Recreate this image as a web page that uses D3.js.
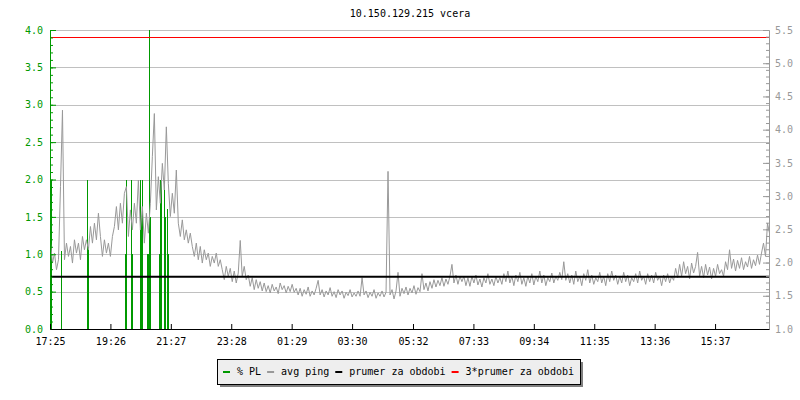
<!DOCTYPE html>
<html>
<head>
<meta charset="utf-8">
<script src="https://cdn.jsdelivr.net/npm/d3@7"></script>
<style>
body { margin: 0; background: #fff; }
text { font-family: "DejaVu Sans Mono", monospace; font-size: 10px; }
</style>
</head>
<body>
<svg id="chart" width="800" height="400"></svg>
<script>
// chart data
var title = "10.150.129.215 vcera"
var timeLabels = ["17:25", "19:26", "21:27", "23:28", "01:29", "03:30", "05:32", "07:33", "09:34", "11:35", "13:36", "15:37"]
var leftTicks = [0, 0.5, 1.0, 1.5, 2.0, 2.5, 3.0, 3.5, 4.0]
var rightTicks = [1.0, 1.5, 2.0, 2.5, 3.0, 3.5, 4.0, 4.5, 5.0, 5.5]

// avg ping (ms), one value every 4 minutes from 17:25
var pingStep = 4
var pingValues = [
  2.3, 2.0, 2.15, 1.9, 2.05, 3.15, 4.3, 2.05, 2.3, 2.1,
  2.25, 2.0, 2.35, 2.15, 2.3, 2.05, 2.4, 2.2, 2.35, 2.2,
  2.55, 2.3, 2.6, 2.35, 2.75, 2.4, 2.1, 2.35, 2.15, 2.3,
  2.1, 2.4, 2.55, 2.85, 2.5, 2.9, 2.6, 3.05, 3.15, 2.4,
  2.8, 2.5, 2.9, 2.6, 3.25, 2.5, 2.85, 2.3, 2.75, 2.45,
  2.9, 3.6, 4.25, 2.8, 3.3, 2.9, 3.5, 3.1, 4.05, 3.2,
  2.7, 3.05, 2.75, 3.4, 2.6, 2.4, 2.65, 2.35, 2.5, 2.3,
  2.45, 2.25, 2.1, 2.3, 2.05, 2.25, 2.0, 2.2, 2.05, 2.15,
  1.95, 2.1, 2.0, 2.15, 1.95, 2.05, 1.9, 1.75, 1.95, 1.8,
  1.92, 1.72, 1.88, 1.7, 1.85, 2.34, 1.8, 1.95, 1.75, 1.82,
  1.65, 1.78, 1.6, 1.75, 1.62, 1.72, 1.58, 1.7, 1.57, 1.66,
  1.55, 1.68, 1.58, 1.64, 1.54, 1.7, 1.6, 1.66, 1.55, 1.65,
  1.57, 1.68, 1.56, 1.62, 1.52, 1.62, 1.5, 1.6, 1.53, 1.64,
  1.5, 1.58, 1.52, 1.62, 1.74, 1.52, 1.6, 1.49, 1.58, 1.52,
  1.63, 1.5, 1.57, 1.48, 1.6, 1.52, 1.58, 1.47, 1.56, 1.51,
  1.6, 1.49, 1.55, 1.5, 1.58, 1.5, 1.78, 1.52, 1.58, 1.48,
  1.56, 1.5, 1.6, 1.47, 1.55, 1.5, 1.58, 1.49, 1.56, 3.38,
  1.52, 1.6, 1.46, 1.58, 1.86, 1.5, 1.62, 1.54, 1.64, 1.52,
  1.62, 1.55, 1.66, 1.53, 1.63, 1.57, 1.84, 1.6, 1.7, 1.58,
  1.72, 1.62, 1.75, 1.64, 1.74, 1.66, 1.78, 1.65, 1.76, 1.68,
  1.8, 1.98, 1.7, 1.82, 1.68, 1.8, 1.72, 1.8, 1.66, 1.78,
  1.65, 1.8, 1.7, 1.82, 1.67, 1.76, 1.64, 1.78, 1.7, 1.84,
  1.68, 1.76, 1.66, 1.8, 1.7, 1.78, 1.68, 1.84, 1.72, 1.88,
  1.7, 1.8, 1.66, 1.82, 1.72, 1.86, 1.68, 1.78, 1.65, 1.8,
  1.7, 1.84, 1.67, 1.8, 1.72, 1.88, 1.7, 1.82, 1.66, 1.78,
  1.72, 1.85, 1.7, 1.8, 1.74, 1.86, 1.75, 2.02, 1.74, 1.84,
  1.7, 1.82, 1.68, 1.88, 1.72, 1.8, 1.66, 1.84, 1.74, 1.9,
  1.7, 1.82, 1.68, 1.78, 1.72, 1.86, 1.7, 1.8, 1.66, 1.84,
  1.72, 1.88, 1.74, 1.82, 1.68, 1.8, 1.7, 1.86, 1.72, 1.82,
  1.66, 1.78, 1.72, 1.84, 1.7, 1.88, 1.74, 1.8, 1.68, 1.84,
  1.72, 1.82, 1.7, 1.86, 1.74, 1.8, 1.66, 1.82, 1.72, 1.84,
  1.7, 1.8, 1.74, 1.92, 1.78, 1.98, 1.8, 2.02, 1.84, 1.95,
  1.76, 2.0, 1.85, 1.95, 2.16, 1.8, 1.95, 1.78, 1.98, 1.82,
  1.94, 1.76, 1.92, 1.8, 1.98, 1.84, 1.9, 1.8, 2.02, 1.9,
  2.2, 1.92, 2.06, 1.88, 2.04, 1.92, 2.08, 1.9, 2.02, 1.94,
  2.1, 1.92, 2.05, 1.96, 2.12, 1.98, 2.15, 2.3, 2.1, 2.6,
  2.45
]

// packet loss (%), minutes after 17:25
var plMinutes = [0, 2, 23, 74, 76, 151, 153, 163, 165, 180, 182, 184, 195, 197, 199, 201, 218, 220, 222, 229, 231, 235, 237]
var plValues = [2.0, 2.0, 1.05, 2.0, 1.1, 1.0, 2.0, 2.0, 1.0, 2.0, 1.5, 2.0, 1.0, 1.0, 4.0, 1.5, 1.0, 2.0, 2.0, 2.0, 1.5, 1.6, 1.0]

var avgPing = 1.80
var legendNames = ["% PL", "avg ping", "prumer za obdobi", "3*prumer za obdobi"]
var legendColors = ["#009900", "#999999", "#000000", "#ff0000"]

var green = "#009900", gray = "#999999"

var svg = d3.select("#chart")

// scales
var x = d3.scaleLinear().domain([0, 1440]).range([50, 769])
var yL = d3.scaleLinear().domain([0, 4]).range([329, 30])
var yR = d3.scaleLinear().domain([1, 5.5]).range([329, 30])

// minutes after first label
function toMinutes(s) {
  var p = s.split(":"), f = timeLabels[0].split(":")
  return ((+p[0] * 60 + +p[1]) - (+f[0] * 60 + +f[1]) + 1440) % 1440
}

svg.append("text")
  .attr("x", 410).attr("y", 17)
  .attr("text-anchor", "middle")
  .text(title)

// grid
svg.append("g").selectAll("line")
  .data(leftTicks.filter(function(d) { return d > 0 }))
  .enter().append("line")
  .attr("x1", 50).attr("x2", 770)
  .attr("y1", function(d) { return Math.round(yL(d)) + 0.5 })
  .attr("y2", function(d) { return Math.round(yL(d)) + 0.5 })
  .style("stroke", "#c0c0c0")

svg.append("clipPath").attr("id", "clip")
  .append("rect").attr("x", 50).attr("y", 30).attr("width", 720).attr("height", 300)

var plot = svg.append("g").attr("clip-path", "url(#clip)")

// packet loss bars
plot.selectAll("rect.pl")
  .data(plMinutes)
  .enter().append("rect")
  .attr("class", "pl")
  .attr("x", function(d) { return Math.round(x(d)) })
  .attr("width", 1)
  .attr("y", function(d, i) { return Math.round(yL(plValues[i])) })
  .attr("height", function(d, i) { return 330 - Math.round(yL(plValues[i])) })
  .attr("shape-rendering", "crispEdges")
  .style("fill", green)

// avg ping
var line = d3.line()
  .x(function(d, i) { return x(i * pingStep) + 0.5 })
  .y(function(d) { return yR(d) + 0.5 })

plot.append("path")
  .datum(pingValues)
  .attr("d", line)
  .style("fill", "none")
  .style("stroke", gray)
  .style("stroke-width", 1)

// average and 3*average
plot.append("line")
  .attr("x1", 50).attr("x2", 770)
  .attr("y1", yR(avgPing) + 1).attr("y2", yR(avgPing) + 1)
  .style("stroke", "#000").style("stroke-width", 2)

plot.append("line")
  .attr("x1", 50).attr("x2", 770)
  .attr("y1", Math.round(yR(3 * avgPing)) + 0.5).attr("y2", Math.round(yR(3 * avgPing)) + 0.5)
  .attr("shape-rendering", "crispEdges")
  .style("stroke", "#ff0000").style("stroke-width", 1)

// left axis
var minorLeft = d3.range(0, 41).map(function(d) { return d / 10 })
svg.append("g")
  .attr("transform", "translate(50,0)")
  .call(d3.axisLeft(yL).tickValues(minorLeft).tickSize(-3).tickSizeOuter(0).tickFormat(""))
  .call(function(g) { g.selectAll("line").style("stroke", green); g.select(".domain").style("stroke", green) })

svg.append("g")
  .attr("transform", "translate(50,0)")
  .call(d3.axisLeft(yL).tickValues(leftTicks).tickSize(-6).tickSizeOuter(0).tickPadding(7)
    .tickFormat(d3.format(".1f")))
  .call(function(g) {
    g.select(".domain").remove()
    g.selectAll("line").style("stroke", green)
    g.selectAll("text").style("fill", green).style("font-family", "DejaVu Sans Mono").style("font-size", "10px")
  })

// right axis
var minorRight = d3.range(10, 56).map(function(d) { return d / 10 })
svg.append("g")
  .attr("transform", "translate(769,0)")
  .call(d3.axisRight(yR).tickValues(minorRight).tickSize(-3).tickSizeOuter(0).tickFormat(""))
  .call(function(g) { g.selectAll("line").style("stroke", gray); g.select(".domain").style("stroke", gray) })

svg.append("g")
  .attr("transform", "translate(769,0)")
  .call(d3.axisRight(yR).tickValues(rightTicks).tickSize(-6).tickSizeOuter(0).tickPadding(6)
    .tickFormat(d3.format(".1f")))
  .call(function(g) {
    g.select(".domain").remove()
    g.selectAll("line").style("stroke", gray)
    g.selectAll("text").style("fill", gray).style("font-family", "DejaVu Sans Mono").style("font-size", "10px")
  })

// bottom axis
svg.append("g")
  .attr("transform", "translate(0,329)")
  .call(d3.axisBottom(x).tickValues(timeLabels.map(toMinutes)).tickSize(-5).tickSizeOuter(0).tickPadding(9)
    .tickFormat(function(d, i) { return timeLabels[i] }))
  .call(function(g) {
    g.select(".domain").style("stroke", "#000")
    g.selectAll("line").style("stroke", "#000")
    g.selectAll("text").style("fill", "#000").style("font-family", "DejaVu Sans Mono").style("font-size", "10px")
  })

// legend
var legend = svg.append("g")
legend.append("rect")
  .attr("x", 220).attr("y", 362).attr("width", 363).attr("height", 25)
  .style("fill", "#808080")
legend.append("rect")
  .attr("x", 217.5).attr("y", 359.5).attr("width", 363).attr("height", 25)
  .style("fill", "#eeeeee").style("stroke", "#000")

var lx = 223
legendNames.forEach(function(name, i) {
  legend.append("line")
    .attr("x1", lx).attr("x2", lx + 7)
    .attr("y1", 372).attr("y2", 372)
    .style("stroke", legendColors[i]).style("stroke-width", 2)
  var t = legend.append("text")
    .attr("x", lx + 14).attr("y", 375)
    .text(name)
  lx = lx + 14 + t.node().getComputedTextLength() + 6
})
</script>
</body>
</html>
